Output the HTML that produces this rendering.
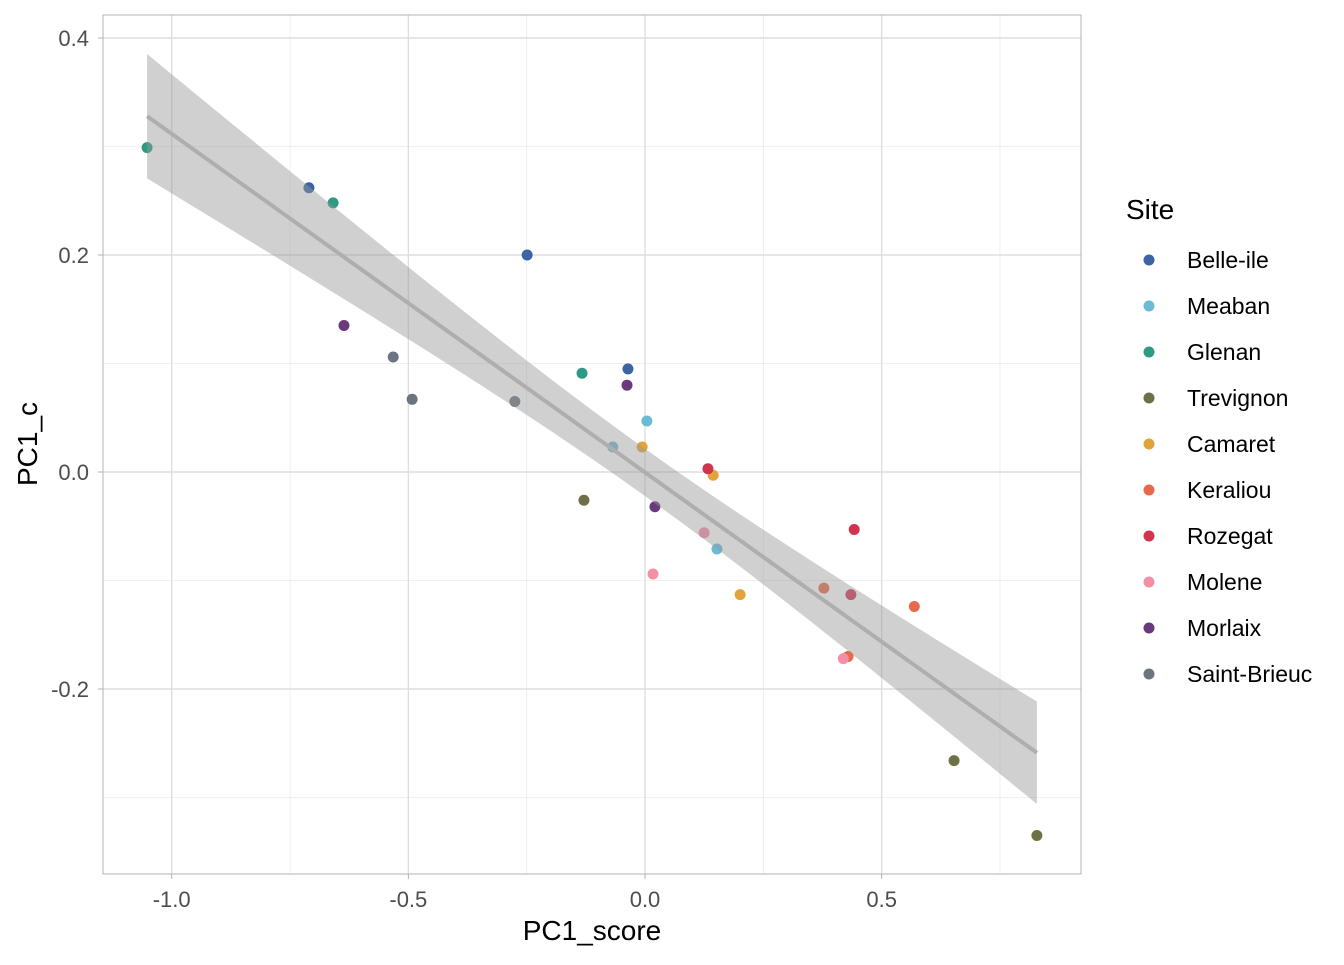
<!DOCTYPE html>
<html><head><meta charset="utf-8"><style>
body{margin:0;background:#fff;font-family:"Liberation Sans",Arial,sans-serif}
svg text{font-family:"Liberation Sans",Arial,sans-serif}
</style></head><body>
<svg id="chart" width="1344" height="960" xmlns="http://www.w3.org/2000/svg"></svg>
<script>
const sites=["Belle-ile","Meaban","Glenan","Trevignon","Camaret","Keraliou","Rozegat","Molene","Morlaix","Saint-Brieuc"];
const colors=["#3A64A2","#6BBAD6","#2E9A84","#6E7148","#E0A43A","#E8694A","#D0344F","#F58FA6","#6A3B7B","#6C7480"];
const xVals=[[-0.71,-0.249,-0.036],[0.004,-0.068,0.152],[-1.052,-0.659,-0.133],[-0.129,0.653,0.828],[-0.006,0.144,0.201],[0.378,0.569,0.429],[0.133,0.442,0.435],[0.017,0.125,0.419],[-0.636,-0.038,0.021],[-0.532,-0.492,-0.275]];
const yVals=[[0.262,0.2,0.095],[0.047,0.023,-0.071],[0.299,0.248,0.091],[-0.026,-0.266,-0.335],[0.023,-0.003,-0.113],[-0.107,-0.124,-0.170],[0.003,-0.053,-0.113],[-0.094,-0.056,-0.172],[0.135,0.080,-0.032],[0.106,0.067,0.065]];
const xTicks=[-1.0,-0.5,0.0,0.5];
const xTickLabels=["-1.0","-0.5","0.0","0.5"];
const yTicks=[0.4,0.2,0.0,-0.2];
const yTickLabels=["0.4","0.2","0.0","-0.2"];
const xMinor=[-0.75,-0.25,0.25,0.75];
const yMinor=[0.3,0.1,-0.1,-0.3];

const svg=document.getElementById('chart');
const NS="http://www.w3.org/2000/svg";
const L=103,R=1081,T=15,B=874;
const X=v=>645+v*473.3, Y=v=>472-v*1085;
function mk(tag,attrs,parent){const e=document.createElementNS(NS,tag);for(const k in attrs)e.setAttribute(k,attrs[k]);(parent||svg).appendChild(e);return e;}

const grid=mk('g',{});


xMinor.forEach(v=>mk('line',{x1:X(v),x2:X(v),y1:T,y2:B,stroke:'#EBEBEB','stroke-width':0.8},grid));
yMinor.forEach(v=>mk('line',{x1:L,x2:R,y1:Y(v),y2:Y(v),stroke:'#EBEBEB','stroke-width':0.8},grid));
xTicks.forEach(v=>mk('line',{x1:X(v),x2:X(v),y1:T,y2:B,stroke:'#DEDEDE','stroke-width':1.4},grid));
yTicks.forEach(v=>mk('line',{x1:L,x2:R,y1:Y(v),y2:Y(v),stroke:'#DEDEDE','stroke-width':1.4},grid));

const pts=mk('g',{});


let all=[];
sites.forEach((s,i)=>{xVals[i].forEach((xv,j)=>{const yv=yVals[i][j];all.push([xv,yv]);
 const c=mk('circle',{cx:X(xv),cy:Y(yv),r:5.5,fill:colors[i]},pts);
 
 });});

const n=all.length;let mx=0,my=0;all.forEach(p=>{mx+=p[0];my+=p[1];});mx/=n;my/=n;
let sxx=0,sxy=0;all.forEach(p=>{sxx+=(p[0]-mx)**2;sxy+=(p[0]-mx)*(p[1]-my);});
const b=sxy/sxx,a=my-b*mx;let sse=0;all.forEach(p=>{sse+=(p[1]-a-b*p[0])**2;});
const s=Math.sqrt(sse/(n-2)),t=2.048;
const xmin=Math.min(...all.map(p=>p[0])),xmax=Math.max(...all.map(p=>p[0]));
let up=[],lo=[];
for(let k=0;k<=80;k++){const xv=xmin+(xmax-xmin)*k/80;const f=a+b*xv;const h=t*s*Math.sqrt(1/n+(xv-mx)**2/sxx);
 up.push(X(xv)+','+Y(f+h));lo.unshift(X(xv)+','+Y(f-h));}
const band=mk('polygon',{points:up.concat(lo).join(' '),fill:'#999999','fill-opacity':0.46});


const line=mk('line',{x1:X(xmin),y1:Y(a+b*xmin),x2:X(xmax),y2:Y(a+b*xmax),stroke:'#AEAEAE','stroke-width':4});



const border=mk('rect',{x:L,y:T,width:R-L,height:B-T,fill:'none',stroke:'#B3B3B3','stroke-width':1});



xTicks.forEach((v,i)=>{mk('line',{x1:X(v),x2:X(v),y1:B,y2:B+5,stroke:'#B3B3B3'});
 const tx=mk('text',{x:X(v),y:B+33,'text-anchor':'middle','font-size':22,fill:'#4D4D4D'});tx.textContent=xTickLabels[i];
 
 });
yTicks.forEach((v,i)=>{mk('line',{x1:L-5,x2:L,y1:Y(v),y2:Y(v),stroke:'#B3B3B3'});
 const tx=mk('text',{x:L-14,y:Y(v)+8,'text-anchor':'end','font-size':22,fill:'#4D4D4D'});tx.textContent=yTickLabels[i];
 
 });
const xt=mk('text',{x:592,y:940,'text-anchor':'middle','font-size':28,fill:'#000'});xt.textContent='PC1_score';


const yt=mk('text',{x:0,y:0,'text-anchor':'middle','font-size':28,fill:'#000',transform:'translate(37,444) rotate(-90)'});yt.textContent='PC1_c';



const lg=mk('g',{});


const lt=mk('text',{x:1126,y:219,'font-size':28,fill:'#000'},lg);lt.textContent='Site';


sites.forEach((s,i)=>{const g=mk('g',{},lg);
 
 
 mk('circle',{cx:1149,cy:260+46*i,r:5.5,fill:colors[i]},g);
 const tx=mk('text',{x:1187,y:268+46*i,'font-size':23,fill:'#000'},g);tx.textContent=s;});
</script>
</body></html>
